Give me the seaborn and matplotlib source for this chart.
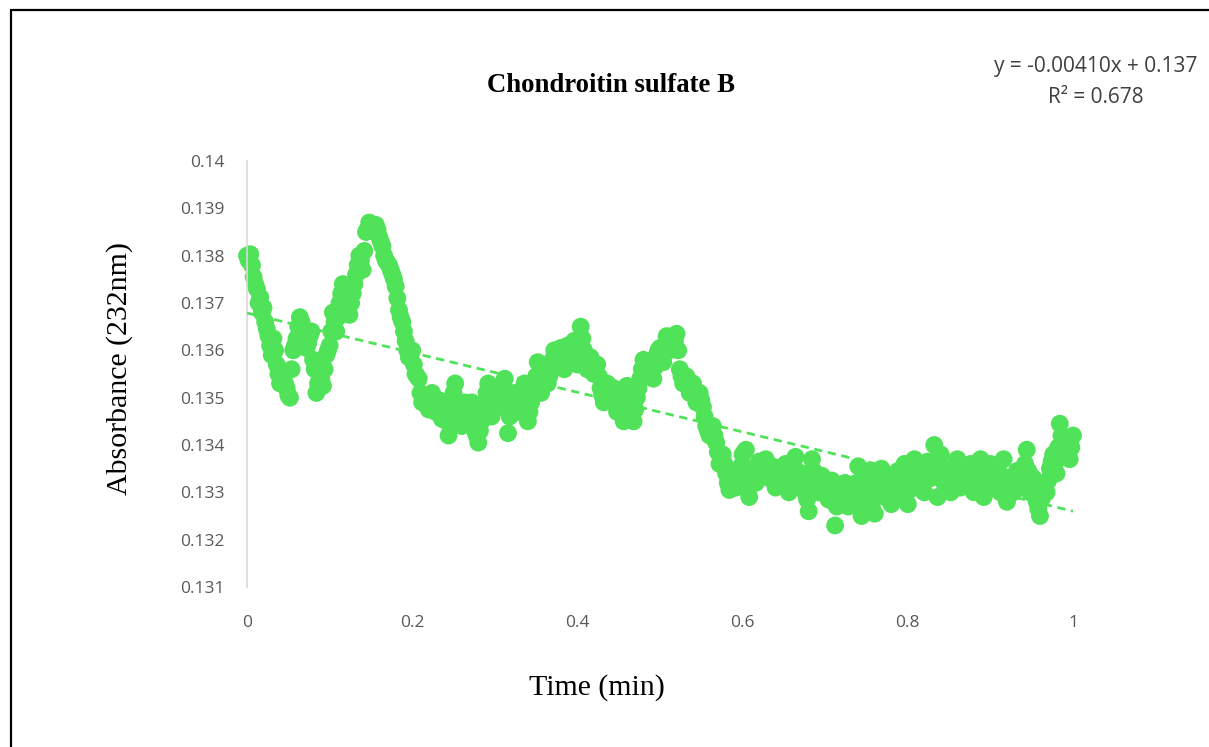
import numpy as np
import pandas as pd
import matplotlib
matplotlib.use("Agg")
import matplotlib.pyplot as plt
from matplotlib.ticker import FuncFormatter
from matplotlib.lines import Line2D
import seaborn as sns

# ---- data ----
time_step = 0.004  # min between readings
# readings on the whole steps (0, 0.004, 0.008, ...)
absorbance = [
    0.13800, 0.13803, 0.13755, 0.13730, 0.13712, 0.13690, 0.13645, 0.13610, 0.13625, 0.13570,
    0.13530, 0.13555, 0.13520, 0.13500, 0.13600, 0.13625, 0.13670, 0.13640, 0.13605, 0.13630,
    0.13580, 0.13510, 0.13550, 0.13525, 0.13590, 0.13610, 0.13680, 0.13640, 0.13700, 0.13740,
    0.13690, 0.13675, 0.13720, 0.13760, 0.13800, 0.13770, 0.13850, 0.13870, 0.13860, 0.13865,
    0.13840, 0.13820, 0.13790, 0.13780, 0.13760, 0.13735, 0.13685, 0.13660, 0.13620, 0.13585,
    0.13600, 0.13550, 0.13540, 0.13490, 0.13500, 0.13475, 0.13510, 0.13470, 0.13495, 0.13455,
    0.13480, 0.13420, 0.13500, 0.13530, 0.13470, 0.13440, 0.13490, 0.13460, 0.13490, 0.13430,
    0.13405, 0.13450, 0.13490, 0.13530, 0.13460, 0.13500, 0.13480, 0.13520, 0.13540, 0.13425,
    0.13490, 0.13510, 0.13470, 0.13500, 0.13530, 0.13450, 0.13490, 0.13520, 0.13575, 0.13510,
    0.13545, 0.13530, 0.13560, 0.13600, 0.13570, 0.13605, 0.13560, 0.13610, 0.13580, 0.13620,
    0.13570, 0.13650, 0.13600, 0.13560, 0.13585, 0.13550, 0.13570, 0.13520, 0.13490, 0.13530,
    0.13500, 0.13520, 0.13470, 0.13510, 0.13450, 0.13525, 0.13480, 0.13450, 0.13500, 0.13540,
    0.13580, 0.13550, 0.13570, 0.13540, 0.13590, 0.13605, 0.13575, 0.13630, 0.13600, 0.13610,
    0.13635, 0.13560, 0.13530, 0.13545, 0.13510, 0.13530, 0.13490, 0.13510, 0.13480, 0.13440,
    0.13420, 0.13440, 0.13405, 0.13360, 0.13380, 0.13340, 0.13305, 0.13345, 0.13310, 0.13330,
    0.13380, 0.13390, 0.13290, 0.13350, 0.13320, 0.13365, 0.13340, 0.13370, 0.13330, 0.13355,
    0.13310, 0.13345, 0.13320, 0.13360, 0.13300, 0.13335, 0.13375, 0.13310, 0.13340, 0.13300,
    0.13260, 0.13370, 0.13320, 0.13300, 0.13335, 0.13310, 0.13285, 0.13325, 0.13230, 0.13300,
    0.13280, 0.13320, 0.13270, 0.13310, 0.13290, 0.13355, 0.13250, 0.13300, 0.13345, 0.13270,
    0.13255, 0.13320, 0.13350, 0.13290, 0.13330, 0.13275, 0.13310, 0.13345, 0.13300, 0.13360,
    0.13275, 0.13330, 0.13370, 0.13310, 0.13350, 0.13300, 0.13365, 0.13330, 0.13400, 0.13290,
    0.13380, 0.13320, 0.13350, 0.13300, 0.13340, 0.13370, 0.13310, 0.13355, 0.13320, 0.13360,
    0.13300, 0.13345, 0.13370, 0.13290, 0.13330, 0.13360, 0.13310, 0.13340, 0.13300, 0.13370,
    0.13280, 0.13330, 0.13300, 0.13345, 0.13310, 0.13335, 0.13390, 0.13300, 0.13330, 0.13280,
    0.13250, 0.13320, 0.13300, 0.13350, 0.13380, 0.13340, 0.13445, 0.13390, 0.13400, 0.13370,
    0.13420,
]
# readings on the half steps (0.002, 0.006, 0.010, ...)
absorbance_mid = [
    0.13790, 0.13780, 0.13740, 0.13700, 0.13680, 0.13660, 0.13630, 0.13590, 0.13600, 0.13550,
    0.13545, 0.13530, 0.13505, 0.13560, 0.13610, 0.13650, 0.13660, 0.13620, 0.13615, 0.13640,
    0.13560, 0.13530, 0.13540, 0.13560, 0.13600, 0.13640, 0.13660, 0.13670, 0.13720, 0.13710,
    0.13680, 0.13700, 0.13740, 0.13780, 0.13790, 0.13810, 0.13855, 0.13865, 0.13850, 0.13855,
    0.13830, 0.13800, 0.13785, 0.13770, 0.13750, 0.13710, 0.13670, 0.13640, 0.13600, 0.13590,
    0.13570, 0.13545, 0.13510, 0.13495, 0.13485, 0.13495, 0.13485, 0.13480, 0.13470, 0.13470,
    0.13450, 0.13470, 0.13510, 0.13490, 0.13455, 0.13470, 0.13475, 0.13480, 0.13455, 0.13420,
    0.13430, 0.13470, 0.13510, 0.13495, 0.13485, 0.13490, 0.13505, 0.13530, 0.13480, 0.13460,
    0.13500, 0.13490, 0.13485, 0.13515, 0.13490, 0.13470, 0.13505, 0.13545, 0.13540, 0.13530,
    0.13540, 0.13545, 0.13580, 0.13585, 0.13590, 0.13580, 0.13590, 0.13595, 0.13600, 0.13595,
    0.13610, 0.13625, 0.13580, 0.13575, 0.13565, 0.13560, 0.13545, 0.13505, 0.13510, 0.13515,
    0.13510, 0.13495, 0.13490, 0.13480, 0.13490, 0.13500, 0.13465, 0.13475, 0.13520, 0.13560,
    0.13565, 0.13560, 0.13555, 0.13565, 0.13600, 0.13590, 0.13605, 0.13615, 0.13605, 0.13620,
    0.13600, 0.13545, 0.13535, 0.13525, 0.13520, 0.13510, 0.13500, 0.13495, 0.13460, 0.13430,
    0.13430, 0.13420, 0.13385, 0.13370, 0.13360, 0.13320, 0.13325, 0.13330, 0.13320, 0.13355,
    0.13385, 0.13340, 0.13320, 0.13335, 0.13345, 0.13350, 0.13355, 0.13350, 0.13340, 0.13330,
    0.13330, 0.13335, 0.13340, 0.13330, 0.13320, 0.13355, 0.13340, 0.13325, 0.13320, 0.13285,
    0.13315, 0.13345, 0.13310, 0.13320, 0.13325, 0.13295, 0.13305, 0.13280, 0.13270, 0.13290,
    0.13300, 0.13295, 0.13290, 0.13300, 0.13320, 0.13305, 0.13275, 0.13325, 0.13305, 0.13260,
    0.13290, 0.13335, 0.13320, 0.13310, 0.13300, 0.13295, 0.13330, 0.13320, 0.13330, 0.13315,
    0.13305, 0.13350, 0.13340, 0.13330, 0.13325, 0.13335, 0.13345, 0.13365, 0.13345, 0.13335,
    0.13350, 0.13335, 0.13325, 0.13320, 0.13355, 0.13340, 0.13335, 0.13340, 0.13340, 0.13330,
    0.13325, 0.13355, 0.13330, 0.13310, 0.13345, 0.13335, 0.13325, 0.13320, 0.13335, 0.13325,
    0.13305, 0.13315, 0.13325, 0.13330, 0.13320, 0.13360, 0.13345, 0.13315, 0.13305, 0.13265,
    0.13285, 0.13310, 0.13325, 0.13365, 0.13360, 0.13395, 0.13420, 0.13395, 0.13385, 0.13395,
]
time_full = np.round(np.arange(len(absorbance)) * time_step, 3)
time_half = np.round(np.arange(len(absorbance_mid)) * time_step + time_step / 2, 3)

x_ticks = [0, 0.2, 0.4, 0.6, 0.8, 1]
y_ticks = [0.131, 0.132, 0.133, 0.134, 0.135, 0.136, 0.137, 0.138, 0.139, 0.14]

title = "Chondroitin sulfate B"
x_label = "Time (min)"
y_label = "Absorbance (232nm)"
equation = "y = -0.00410x + 0.137\nR² = 0.678"

df = pd.DataFrame({"time": np.concatenate([time_full, time_half]),
                   "abs": np.concatenate([absorbance, absorbance_mid])})
df = df.sort_values("time").reset_index(drop=True)

# ---- style ----
sns.set_theme(style="white")
GREEN = "#50E35A"
sans = ["Open Sans", "DejaVu Sans"]
serif = ["Liberation Serif", "DejaVu Serif"]

fig = plt.figure(figsize=(12.09, 7.47), dpi=100)
ax = fig.add_axes([247 / 1209, 1 - 587 / 747, 826 / 1209, 426 / 747])

sns.scatterplot(data=df, x="time", y="abs", ax=ax, color=GREEN, s=165,
                edgecolor="none", linewidth=0, legend=False, zorder=2)
for coll in ax.collections:
    coll.set_clip_on(False)
sns.regplot(data=df, x="time", y="abs", ax=ax, scatter=False, ci=None,
            color=GREEN, truncate=True,
            line_kws=dict(linestyle=(0, (3, 2)), linewidth=2, zorder=3))

ax.set_xlim(0, 1)
ax.set_ylim(0.131, 0.14)
ax.set_xticks(x_ticks)
ax.set_yticks(y_ticks)
ax.xaxis.set_major_formatter(FuncFormatter(lambda v, p: f"{v:g}"))
ax.yaxis.set_major_formatter(FuncFormatter(lambda v, p: f"{v:g}"))
ax.tick_params(axis="both", length=0, labelsize=12.5, colors="#595959")
ax.tick_params(axis="y", pad=16)
ax.tick_params(axis="x", pad=20)
for lab in ax.get_xticklabels() + ax.get_yticklabels():
    lab.set_family(sans)

for side in ["top", "right", "bottom"]:
    ax.spines[side].set_visible(False)
ax.spines["left"].set_color("#d9d9d9")
ax.spines["left"].set_linewidth(1.2)
ax.grid(False)

ax.set_xlabel(x_label, family=serif, fontsize=21.5, color="black")
ax.set_ylabel(y_label, family=serif, fontsize=21.5, color="black")
ax.xaxis.set_label_coords(0.424, -0.205)
ax.yaxis.set_label_coords(-0.138, 0.512)

fig.text(611 / 1209, 1 - 85 / 747, title, ha="center", va="center",
         family=serif, fontsize=19.3, fontweight="bold", color="black")
fig.text(1096 / 1209, 1 - 82 / 747, equation, ha="center", va="center",
         multialignment="center", family=sans, fontsize=15, color="#404040",
         linespacing=1.6)

# outer frame (top and left edges visible)
fig.add_artist(Line2D([11 / 1209, 1.01], [1 - 10 / 747, 1 - 10 / 747],
                      transform=fig.transFigure, color="black", linewidth=1.6))
fig.add_artist(Line2D([11 / 1209, 11 / 1209], [-0.01, 1 - 10 / 747],
                      transform=fig.transFigure, color="black", linewidth=1.6))

fig.savefig("out.png", dpi=100, facecolor="white")
